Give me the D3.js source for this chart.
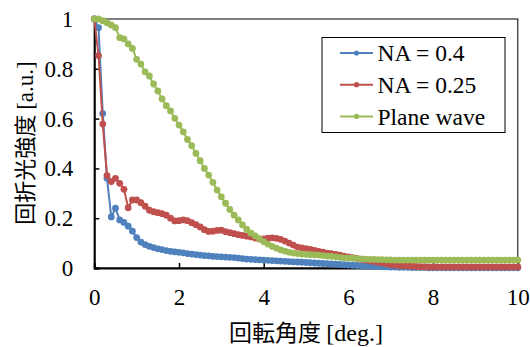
<!DOCTYPE html>
<html>
<head>
<meta charset="utf-8">
<script src="https://cdn.jsdelivr.net/npm/d3@7"></script>
<style>
  html, body { margin: 0; padding: 0; background: #fff; }
  svg { display: block; }
  .serif { font-family: "Liberation Serif", "Tinos", "DejaVu Serif", serif; }
  .cjk { font-family: "Noto Sans CJK JP", "Noto Sans", sans-serif; }
</style>
</head>
<body>
<svg id="chart" width="530" height="347"></svg>
<script>
// ---- data (step 0.1 deg, 0..10) ----
const angles = d3.range(0, 101).map(i => +(i / 10).toFixed(1));

const na04 = [
  1.0, 0.965, 0.62, 0.36, 0.205, 0.24, 0.193, 0.183, 0.168, 0.148,
  0.122, 0.104, 0.094, 0.087, 0.082, 0.077, 0.074, 0.070, 0.067, 0.065,
  0.063, 0.061, 0.058, 0.056, 0.054, 0.052, 0.050, 0.049, 0.047, 0.046,
  0.045, 0.044, 0.043, 0.042, 0.040, 0.038, 0.036, 0.035, 0.034, 0.033,
  0.032, 0.031, 0.030, 0.029, 0.028, 0.027, 0.026, 0.025, 0.024, 0.023,
  0.022, 0.021, 0.020, 0.019, 0.018, 0.017, 0.016, 0.015, 0.014, 0.013,
  0.012, 0.011, 0.010, 0.009, 0.008, 0.007, 0.006, 0.006, 0.005, 0.005,
  0.004, 0.004, 0.003, 0.003, 0.003, 0.002, 0.002, 0.002, 0.002, 0.001,
  0.001, 0.001, 0.001, 0.001, 0.001, 0.001, 0.001, 0.001, 0.001, 0.001,
  0.001, 0.001, 0.001, 0.001, 0.001, 0.001, 0.001, 0.001, 0.001, 0.001,
  0.001
];

const na025 = [
  1.0, 0.853, 0.578, 0.371, 0.347, 0.36, 0.34, 0.316, 0.242, 0.273,
  0.273, 0.262, 0.248, 0.232, 0.226, 0.222, 0.218, 0.212, 0.200, 0.189,
  0.190, 0.193, 0.190, 0.182, 0.174, 0.165, 0.154, 0.147, 0.148, 0.151,
  0.152, 0.146, 0.142, 0.138, 0.134, 0.131, 0.128, 0.125, 0.120, 0.116,
  0.117, 0.120, 0.121, 0.119, 0.115, 0.108, 0.100, 0.092, 0.084, 0.081,
  0.078, 0.075, 0.071, 0.067, 0.064, 0.060, 0.058, 0.055, 0.052, 0.048,
  0.045, 0.042, 0.039, 0.035, 0.032, 0.029, 0.026, 0.023, 0.020, 0.017,
  0.014, 0.012, 0.010, 0.009, 0.008, 0.007, 0.006, 0.005, 0.005, 0.004,
  0.004, 0.004, 0.004, 0.004, 0.004, 0.004, 0.004, 0.004, 0.004, 0.004,
  0.004, 0.004, 0.004, 0.004, 0.004, 0.004, 0.004, 0.004, 0.004, 0.004,
  0.004
];

const plane = [
  1.0, 1.0, 0.993, 0.985, 0.976, 0.965, 0.925, 0.920, 0.900, 0.882,
  0.838, 0.819, 0.788, 0.771, 0.739, 0.711, 0.679, 0.652, 0.631, 0.601,
  0.574, 0.547, 0.516, 0.491, 0.460, 0.431, 0.400, 0.373, 0.344, 0.313,
  0.286, 0.260, 0.235, 0.212, 0.193, 0.173, 0.155, 0.140, 0.129, 0.118,
  0.106, 0.096, 0.087, 0.080, 0.073, 0.068, 0.063, 0.060, 0.058, 0.056,
  0.055, 0.054, 0.053, 0.052, 0.050, 0.048, 0.047, 0.045, 0.043, 0.041,
  0.040, 0.039, 0.038, 0.037, 0.036, 0.035, 0.035, 0.034, 0.034, 0.033,
  0.033, 0.032, 0.032, 0.032, 0.032, 0.032, 0.032, 0.032, 0.032, 0.032,
  0.032, 0.032, 0.032, 0.032, 0.032, 0.032, 0.032, 0.032, 0.032, 0.032,
  0.032, 0.032, 0.032, 0.032, 0.032, 0.032, 0.032, 0.032, 0.032, 0.032,
  0.032
];

const seriesNames = ["NA = 0.4", "NA = 0.25", "Plane wave"];
const seriesValues = [na04, na025, plane];
const seriesColors = ["#4F81BD", "#C0504D", "#9BBB59"];

const xTicks = [0, 2, 4, 6, 8, 10];
const yTicks = [0, 0.2, 0.4, 0.6, 0.8, 1];

const xTitleCJK = "回転角度 ";
const xTitleLatin = "[deg.]";
const yTitleCJK = "回折光強度 ";
const yTitleLatin = "[a.u.]";

// ---- layout ----
const svg = d3.select("#chart");
const pL = 94.3, pR = 517.8, pT = 19, pB = 268;

const x = d3.scaleLinear().domain([0, 10]).range([pL, pR]);
const y = d3.scaleLinear().domain([0, 1]).range([pB, pT]);

// frame
svg.append("rect")
  .attr("x", pL).attr("y", pT)
  .attr("width", pR - pL).attr("height", pB - pT)
  .attr("fill", "none").attr("stroke", "#000").attr("stroke-width", 1);

// axes
const xAxis = d3.axisBottom(x).tickValues(xTicks).tickSize(-5).tickFormat(d3.format("d"));
const gx = svg.append("g").attr("transform", `translate(0,${pB})`).call(xAxis)
  .attr("font-family", null).attr("font-size", null);
gx.select(".domain").attr("stroke", "#000").attr("stroke-width", 2);
gx.selectAll(".tick line").attr("stroke", "#000").attr("stroke-width", 1.5);
gx.selectAll(".tick text")
  .attr("class", "serif").style("font-size", "23px").attr("fill", "#000")
  .attr("y", 37).attr("dy", 0);

const yAxis = d3.axisLeft(y).tickValues(yTicks).tickSize(-5)
  .tickFormat(d => d === 0 || d === 1 ? String(d) : d3.format(".1f")(d));
const gy = svg.append("g").attr("transform", `translate(${pL},0)`).call(yAxis)
  .attr("font-family", null).attr("font-size", null);
gy.select(".domain").attr("stroke", "#000").attr("stroke-width", 2);
gy.selectAll(".tick line").attr("stroke", "#000").attr("stroke-width", 1.5);
gy.selectAll(".tick text")
  .attr("class", "serif").style("font-size", "23px").attr("fill", "#000")
  .attr("x", -21).attr("dy", "0.33em");

// series
const line = d3.line().x((d, i) => x(angles[i])).y(d => y(d));
seriesValues.forEach((vals, si) => {
  const g = svg.append("g");
  g.append("path").datum(vals)
    .attr("d", line)
    .attr("fill", "none")
    .attr("stroke", seriesColors[si])
    .attr("stroke-width", 2);
  g.selectAll("circle").data(vals).join("circle")
    .attr("cx", (d, i) => x(angles[i]))
    .attr("cy", d => y(d))
    .attr("r", 3.4)
    .attr("fill", seriesColors[si]);
});

// legend
const lg = svg.append("g");
lg.append("rect").attr("x", 322).attr("y", 37.5).attr("width", 183).attr("height", 95)
  .attr("fill", "#fff").attr("stroke", "#000").attr("stroke-width", 1);
seriesNames.forEach((name, i) => {
  const cy = 53 + i * 31.7;
  lg.append("line").attr("x1", 340).attr("x2", 373).attr("y1", cy).attr("y2", cy)
    .attr("stroke", seriesColors[i]).attr("stroke-width", 2);
  lg.append("circle").attr("cx", 356.5).attr("cy", cy).attr("r", 2.6).attr("fill", seriesColors[i]);
  lg.append("text").attr("x", 377.5).attr("y", cy).attr("dy", "0.35em")
    .attr("class", "serif").style("font-size", "23.5px").attr("fill", "#000")
    .text(name);
});

// axis titles
const xt = svg.append("text").attr("x", 306).attr("y", 341)
  .attr("text-anchor", "middle").attr("fill", "#000");
xt.append("tspan").attr("class", "cjk").style("font-size", "23px").text(xTitleCJK);
xt.append("tspan").attr("class", "serif").style("font-size", "24px").text(xTitleLatin);

const yt = svg.append("text")
  .attr("transform", "translate(33,143) rotate(-90)")
  .attr("text-anchor", "middle").attr("fill", "#000");
yt.append("tspan").attr("class", "cjk").style("font-size", "22px").text(yTitleCJK);
yt.append("tspan").attr("class", "serif").style("font-size", "23px").text(yTitleLatin);
</script>
</body>
</html>
